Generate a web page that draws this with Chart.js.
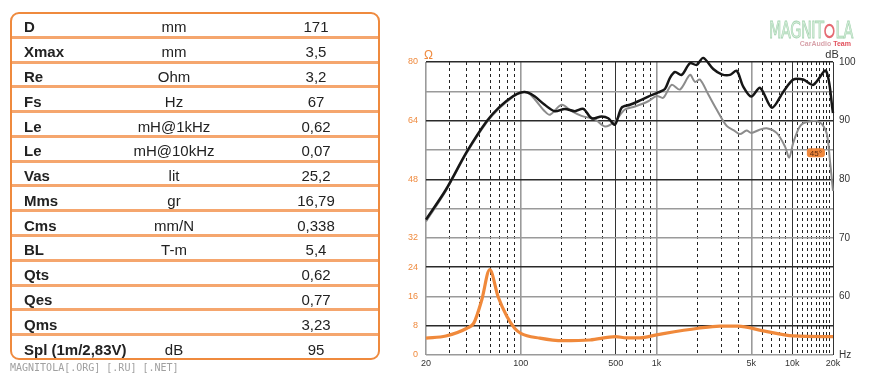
<!DOCTYPE html>
<html>
<head>
<meta charset="utf-8">
<script src="https://cdn.jsdelivr.net/npm/chart.js@4.4.1/dist/chart.umd.min.js"></script>
<style>
  html, body { margin: 0; padding: 0; background: #fff; }
  body { width: 870px; height: 380px; position: relative; overflow: hidden; font-family: Arial, "Liberation Sans", sans-serif; }
  #chart { position: absolute; left: 0; top: 0; }
  #params {
    position: absolute; left: 10px; top: 12px; width: 370px; height: 348px;
    box-sizing: border-box; border: 2px solid #ef8a3e; border-radius: 9px;
    display: flex; flex-direction: column; overflow: hidden; background: #fff; z-index: 2;
  }
  .row { flex: 1; position: relative; border-bottom: 3px solid #f5a66e; box-sizing: border-box; padding-top: 4px;
    font-size: 15px; color: #222; display: flex; align-items: center; }
  .row:last-child { border-bottom: none; }
  .row span { position: absolute; }
  .c1 { left: 12px; font-weight: bold; }
  .c2 { left: 62px; width: 200px; text-align: center; }
  .c3 { left: 204px; width: 200px; text-align: center; }
  #footer { position: absolute; left: 10px; top: 362px; font: 10px "DejaVu Sans Mono", monospace; color: #a0a0a0; z-index: 2; }
  #logo { position: absolute; left: 769px; top: 17px; width: 84px; height: 32px; z-index: 2; }
  #logo .big { position: absolute; left: 0; top: 0; font: 20px "Liberation Sans Narrow", "DejaVu Sans Condensed", sans-serif; color: #d8efdc;
    -webkit-text-stroke: 0.7px #a6d4b2; transform: scale(0.8, 1.12); transform-origin: left top; white-space: nowrap; letter-spacing: -0.5px; }
  #logo .ring { display: inline-block; width: 9px; height: 9px; border: 2.5px solid #e56a72; border-radius: 50%; vertical-align: 0px; margin: 0 1px; }
  #logo .small { position: absolute; right: 2px; top: 23px; font: bold 7px Arial, sans-serif; white-space: nowrap; }
</style>
</head>
<body>
<canvas id="chart" width="870" height="380"></canvas>
<div id="params"></div>
<div id="footer">MAGNITOLA[.ORG] [.RU] [.NET]</div>
<div id="logo">
  <div class="big">MAGNIT<span class="ring"></span>LA</div>
  <div class="small"><span style="color:#d8a2aa">CarAudio</span> <span style="color:#e2505c">Team</span></div>
</div>
<script>
// Thiele-Small table
const paramNames = ["D", "Xmax", "Re", "Fs", "Le", "Le", "Vas", "Mms", "Cms", "BL", "Qts", "Qes", "Qms", "Spl (1m/2,83V)"];
const paramUnits = ["mm", "mm", "Ohm", "Hz", "mH@1kHz", "mH@10kHz", "lit", "gr", "mm/N", "T-m", "", "", "", "dB"];
const paramValues = ["171", "3,5", "3,2", "67", "0,62", "0,07", "25,2", "16,79", "0,338", "5,4", "0,62", "0,77", "3,23", "95"];

// SPL on axis (black), dB
const onAxisFreq = [20, 28, 40, 56, 70, 88, 100, 112, 127, 150, 178, 211, 250, 289, 333, 394, 441, 494, 553, 637,
  734, 869, 1030, 1154, 1257, 1368, 1532, 1765, 1977, 2210, 2620, 3020, 3480, 3900, 4360, 5000, 5800, 7100, 8590, 10180,
  12060, 14300, 17730, 20000];
const onAxisDb = [73.1, 78.2, 84.7, 89.9, 92.4, 94.2, 94.8, 94.8, 94.1, 92.7, 91.6, 92.0, 91.6, 92.0, 90.4, 90.7, 90.4, 89.3, 92.2, 92.7,
  93.3, 94.1, 94.8, 95.4, 97.3, 98.3, 97.8, 99.8, 99.5, 100.7, 98.8, 97.9, 97.8, 98.5, 95.8, 94.1, 95.6, 92.2, 94.9, 97.0,
  97.0, 96.1, 98.5, 91.3];

// SPL 45 deg (gray), dB
const offAxisFreq = [20, 28, 40, 56, 70, 88, 100, 112, 127, 150, 164, 200, 237, 280, 352, 417, 494, 585, 694, 869,
  1003, 1122, 1294, 1490, 1765, 1920, 2090, 2405, 2775, 3290, 3785, 4120, 4615, 5000, 5700, 6490, 7680, 8850, 9510, 10180,
  11400, 13000, 16000, 17940, 18960, 20000];
const offAxisDb = [72.8, 78.0, 84.5, 89.7, 92.2, 94.1, 94.8, 94.8, 93.6, 91.6, 91.0, 92.7, 91.6, 90.8, 90.2, 89.0, 89.9, 91.9, 92.4, 93.3,
  94.2, 93.9, 96.1, 95.3, 97.8, 96.6, 97.0, 94.5, 91.9, 89.1, 88.2, 87.7, 88.3, 87.9, 88.4, 88.7, 87.9, 85.6, 83.7, 86.2,
  89.0, 89.8, 89.7, 87.9, 83.3, 78.0];

// impedance (orange), Ohm
const impFreq = [20, 28, 40, 45, 51.5, 59, 68, 79, 90, 100, 138, 205, 323, 500, 600, 755, 1000, 2030, 2936, 3990, 6120, 10180, 20000];
const impOhm = [4.6, 5.2, 7.3, 8.7, 15, 23.3, 15.9, 10.5, 7.3, 5.9, 4.6, 3.9, 4.1, 5.0, 4.7, 4.7, 5.5, 7.3, 7.9, 7.9, 6.6, 5.2, 5.0];

// axes
const freqGrid = [20, 30, 40, 50, 60, 70, 80, 90, 100, 200, 300, 400, 500, 600, 700, 800, 900,
  1000, 2000, 3000, 4000, 5000, 6000, 7000, 8000, 9000, 10000, 11000, 12000, 13000, 14000, 15000, 16000, 17000, 18000, 19000, 20000];
const freqLabels = { 20: "20", 100: "100", 500: "500", 1000: "1k", 5000: "5k", 10000: "10k", 20000: "20k" };
const ohmLabels = [0, 8, 16, 24, 32, 48, 64, 80];
const dbLabels = { 60: "60", 70: "70", 80: "80", 90: "90", 100: "100", 50: "Hz" };

// table
const tbl = document.getElementById("params");
paramNames.forEach((n, i) => {
  const row = document.createElement("div");
  row.className = "row";
  row.innerHTML = '<span class="c1">' + n + '</span><span class="c2">' + paramUnits[i] +
    '</span><span class="c3">' + paramValues[i] + '</span>';
  tbl.appendChild(row);
});

const zip = (xs, ys) => xs.map((x, i) => ({ x, y: ys[i] }));

const solidGray = [20, 100, 1000, 5000];
const solidDark = [500, 10000, 20000];
const hDark = [80, 64, 48, 24, 8];

const extraText = {
  id: "extraText",
  afterDraw(chart) {
    const { ctx, chartArea, scales } = chart;
    ctx.save();
    ctx.font = "12px Arial";
    ctx.fillStyle = "#ef8a3e";
    ctx.textAlign = "left";
    ctx.textBaseline = "middle";
    ctx.fillText("Ω", chartArea.left - 2, chartArea.top - 6);
    ctx.font = "11px Arial";
    ctx.fillStyle = "#333";
    ctx.textAlign = "center";
    ctx.fillText("dB", chartArea.right - 1, chartArea.top - 7);
    // 45 deg tag
    const x = scales.x.getPixelForValue(14960);
    const y = scales.db.getPixelForValue(84.5);
    ctx.fillStyle = "#f0883c";
    ctx.beginPath();
    ctx.roundRect(x - 9, y - 4.5, 18, 9, 3);
    ctx.fill();
    ctx.fillStyle = "#5a2a10";
    ctx.font = "8px Arial";
    ctx.fillText("45°", x, y + 0.5);
    ctx.restore();
  }
};

new Chart(document.getElementById("chart"), {
  type: "line",
  data: {
    datasets: [
      {
        label: "Impedance",
        data: zip(impFreq, impOhm),
        yAxisID: "ohm",
        borderColor: "#f0893b",
        borderWidth: 3.2,
        pointRadius: 0,
        cubicInterpolationMode: "monotone",
        clip: 4,
      },
      {
        label: "SPL 0",
        data: zip(onAxisFreq, onAxisDb),
        yAxisID: "db",
        borderColor: "#161616",
        borderWidth: 2.5,
        pointRadius: 0,
        tension: 0.3,
        clip: 6,
      },
      {
        label: "SPL 45",
        data: zip(offAxisFreq, offAxisDb),
        yAxisID: "db",
        borderColor: "#8c8c8c",
        borderWidth: 2,
        pointRadius: 0,
        tension: 0.3,
        clip: 6,
      },
    ],
  },
  options: {
    responsive: false,
    animation: false,
    layout: { padding: { left: 390, top: 62, right: 0, bottom: 0 } },
    plugins: { legend: { display: false }, tooltip: { enabled: false } },
    scales: {
      x: {
        type: "logarithmic",
        min: 20,
        max: 20000,
        afterBuildTicks: (s) => { s.ticks = freqGrid.map((v) => ({ value: v })); },
        afterFit: (s) => { s.height = 25; },
        ticks: {
          autoSkip: false,
          maxRotation: 0,
          padding: 3,
          color: "#333",
          font: { size: 9, family: "Arial" },
          callback: (v) => freqLabels[v] || "",
        },
        grid: {
          drawTicks: false,
          color: (c) => solidGray.includes(c.tick && c.tick.value) ? "#9a9a9a" : solidDark.includes(c.tick && c.tick.value) ? "#333" : "#222",
          lineWidth: (c) => solidGray.includes(c.tick && c.tick.value) ? 1.6 : 1,
        },
        border: {
          display: false,
          dash: (c) => (c.tick && !solidGray.includes(c.tick.value) && !solidDark.includes(c.tick.value)) ? [3, 3] : [],
        },
      },
      ohm: {
        position: "left",
        min: 0,
        max: 80,
        afterFit: (s) => { s.width = 36; },
        ticks: {
          stepSize: 8,
          padding: 8,
          color: "#ef8a3e",
          font: { size: 9, family: "Arial" },
          callback: (v) => ohmLabels.includes(v) ? String(v) : "",
        },
        grid: {
          drawTicks: false,
          color: (c) => hDark.includes(c.tick && c.tick.value) ? "#2a2a2a" : "#9a9a9a",
          lineWidth: 1.4,
        },
        border: { display: false },
      },
      db: {
        position: "right",
        min: 50,
        max: 100,
        afterFit: (s) => { s.width = 37; },
        ticks: {
          stepSize: 10,
          padding: 6,
          color: "#333",
          font: { size: 10, family: "Arial" },
          callback: (v) => dbLabels[v] || "",
        },
        grid: { display: false, drawTicks: false },
        border: { display: false },
      },
    },
  },
  plugins: [extraText],
});
</script>
</body>
</html>
